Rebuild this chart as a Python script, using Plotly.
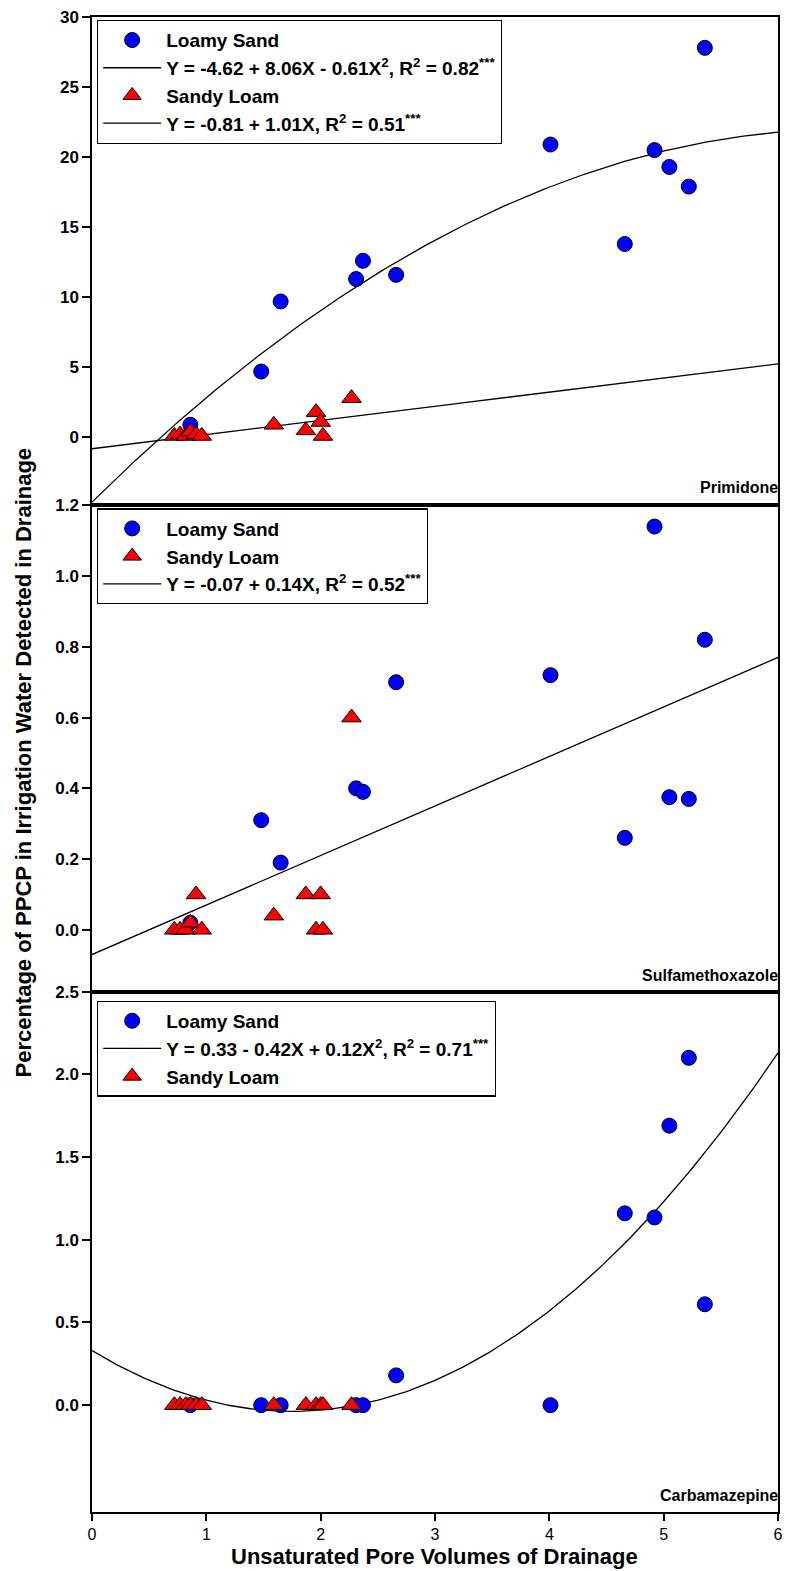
import numpy as np
import plotly.graph_objects as go

# ---------------- data ----------------
loamy_x = [0.86, 1.48, 1.65, 2.31, 2.37, 2.66, 4.01, 4.66, 4.92, 5.05, 5.22, 5.36]
loamy_prim = [0.9, 4.7, 9.7, 11.3, 12.6, 11.6, 20.9, 13.8, 20.5, 19.3, 17.9, 27.8]
loamy_sulf = [0.02, 0.31, 0.19, 0.40, 0.39, 0.70, 0.72, 0.26, 1.14, 0.375, 0.37, 0.82]
loamy_carb = [0.0, 0.0, 0.0, 0.0, 0.0, 0.18, 0.0, 1.16, 1.135, 1.69, 2.1, 0.61]

sandy_x = [0.72, 0.77, 0.82, 0.86, 0.91, 0.96, 1.59, 1.87, 1.96, 2.00, 2.02, 2.27]
sandy_prim = [0.1, 0.2, 0.1, 0.4, 0.2, 0.1, 0.9, 0.5, 1.8, 1.1, 0.1, 2.8]
sandy_sulf = [0.0, 0.0, 0.0, 0.02, 0.10, 0.0, 0.04, 0.10, 0.0, 0.10, 0.0, 0.60]
sandy_carb = [0.0] * 12

# regression coefficients (c0, c1, c2) from the legend equations
fit_prim_loamy = (-4.62, 8.06, -0.61)
fit_prim_sandy = (-0.81, 1.01, 0.0)
fit_sulf_all = (-0.07, 0.14, 0.0)
fit_carb_loamy = (0.33, -0.42, 0.12)

x_ticks = [0, 1, 2, 3, 4, 5, 6]
prim_ticks = [0, 5, 10, 15, 20, 25, 30]
sulf_ticks = [0.0, 0.2, 0.4, 0.6, 0.8, 1.0, 1.2]
carb_ticks = [0.0, 0.5, 1.0, 1.5, 2.0, 2.5]

labels = {
    "prim_fit_l": "Y = -4.62 + 8.06X - 0.61X<sup>2</sup>, R<sup>2</sup> = 0.82<sup>***</sup>",
    "prim_fit_s": "Y = -0.81 + 1.01X, R<sup>2</sup> = 0.51<sup>***</sup>",
    "sulf_fit": "Y = -0.07 + 0.14X, R<sup>2</sup> = 0.52<sup>***</sup>",
    "carb_fit": "Y = 0.33 - 0.42X + 0.12X<sup>2</sup>, R<sup>2</sup> = 0.71<sup>***</sup>",
}

# ---------------- figure ----------------
W, H = 791, 1571
ML, MR, MT, MB = 92, 8, 15, 59
PH = H - MT - MB
PW = W - ML - MR
def py(pix):
    return (H - MB - pix) / PH
def px(pix):
    return (pix - ML) / PW

FONT = "Arial, Liberation Sans, sans-serif"
xs = np.linspace(0, 6, 200)
def poly(c):
    return c[0] + c[1] * xs + c[2] * xs ** 2

fig = go.Figure()

circle = dict(symbol="circle", size=15, color="#0000FF", line=dict(color="black", width=1))
tri = dict(symbol="triangle-up", size=17, color="#FF0000", line=dict(color="black", width=1))
line = dict(color="black", width=1.3)

# panel 1 (top) -> x3/y3 ; legend
fig.add_trace(go.Scatter(x=xs, y=poly(fit_prim_loamy), mode="lines", line=line, name=labels["prim_fit_l"],
                         xaxis="x3", yaxis="y3", legend="legend", legendrank=2))
fig.add_trace(go.Scatter(x=xs, y=poly(fit_prim_sandy), mode="lines", line=line, name=labels["prim_fit_s"],
                         xaxis="x3", yaxis="y3", legend="legend", legendrank=4))
fig.add_trace(go.Scatter(x=loamy_x, y=loamy_prim, mode="markers", marker=circle, name="Loamy Sand",
                         xaxis="x3", yaxis="y3", legend="legend", legendrank=1))
fig.add_trace(go.Scatter(x=sandy_x, y=sandy_prim, mode="markers", marker=tri, name="Sandy Loam",
                         xaxis="x3", yaxis="y3", legend="legend", legendrank=3))

# panel 2 (middle) -> x2/y2 ; legend2
fig.add_trace(go.Scatter(x=xs, y=poly(fit_sulf_all), mode="lines", line=line, name=labels["sulf_fit"],
                         xaxis="x2", yaxis="y2", legend="legend2", legendrank=3))
fig.add_trace(go.Scatter(x=loamy_x, y=loamy_sulf, mode="markers", marker=circle, name="Loamy Sand",
                         xaxis="x2", yaxis="y2", legend="legend2", legendrank=1))
fig.add_trace(go.Scatter(x=sandy_x, y=sandy_sulf, mode="markers", marker=tri, name="Sandy Loam",
                         xaxis="x2", yaxis="y2", legend="legend2", legendrank=2))

# panel 3 (bottom) -> x/y ; legend3
fig.add_trace(go.Scatter(x=xs, y=poly(fit_carb_loamy), mode="lines", line=line, name=labels["carb_fit"],
                         xaxis="x", yaxis="y", legend="legend3", legendrank=2))
fig.add_trace(go.Scatter(x=loamy_x, y=loamy_carb, mode="markers", marker=circle, name="Loamy Sand",
                         xaxis="x", yaxis="y", legend="legend3", legendrank=1))
fig.add_trace(go.Scatter(x=sandy_x, y=sandy_carb, mode="markers", marker=tri, name="Sandy Loam",
                         xaxis="x", yaxis="y", legend="legend3", legendrank=3))

top1, bot1 = 15, 504
top2, bot2 = 504, 991
top3, bot3 = 991, 1512

ax_common = dict(showline=True, linecolor="black", linewidth=1.5, mirror=True, showgrid=False,
                 zeroline=False, range=[0, 6])
y_common = dict(showline=True, linecolor="black", linewidth=1.5, mirror=True, showgrid=False,
                zeroline=False, ticks="outside", ticklen=8, tickwidth=1.5, tickcolor="black",
                tickfont=dict(family=FONT, size=17, color="black", weight="bold"))

legend_common = dict(bgcolor="white", bordercolor="black", borderwidth=1.2,
                     font=dict(family=FONT, size=19, color="black", weight="bold"),
                     xanchor="left", yanchor="top", x=px(97), itemwidth=58,
                     tracegroupgap=0)

fig.update_layout(
    width=W, height=H,
    margin=dict(l=ML, r=MR, t=MT, b=MB),
    paper_bgcolor="white", plot_bgcolor="white",
    showlegend=True,
    xaxis=dict(**ax_common, anchor="y", domain=[0, 1], ticks="outside", ticklen=7, tickwidth=1.5,
               tickcolor="black", tickvals=x_ticks,
               tickfont=dict(family=FONT, size=16, color="black")),
    xaxis2=dict(**ax_common, anchor="y2", matches="x", showticklabels=False, ticks=""),
    xaxis3=dict(**ax_common, anchor="y3", matches="x", showticklabels=False, ticks=""),
    yaxis=dict(**y_common, domain=[py(bot3), py(top3)], anchor="x", range=[-0.646, 2.5],
               tickvals=carb_ticks, tickformat=".1f"),
    yaxis2=dict(**y_common, domain=[py(bot2), py(top2)], anchor="x2", range=[-0.175, 1.2],
                tickvals=sulf_ticks, tickformat=".1f"),
    yaxis3=dict(**y_common, domain=[py(bot1), py(top1)], anchor="x3", range=[-4.85, 30],
                tickvals=prim_ticks),
    legend=dict(**legend_common, y=py(18)),
    legend2=dict(**legend_common, y=py(507)),
    legend3=dict(**legend_common, y=py(1000)),
)

ann_font = dict(family=FONT, size=16, color="black", weight="bold")
xr = px(785)
fig.add_annotation(text="Primidone", xref="paper", yref="paper", x=xr, y=py(486),
                   xanchor="right", yanchor="middle", showarrow=False, font=ann_font)
fig.add_annotation(text="Sulfamethoxazole", xref="paper", yref="paper", x=xr, y=py(975),
                   xanchor="right", yanchor="middle", showarrow=False, font=ann_font)
fig.add_annotation(text="Carbamazepine", xref="paper", yref="paper", x=xr, y=py(1495),
                   xanchor="right", yanchor="middle", showarrow=False, font=ann_font)

title_font = dict(family=FONT, size=22, color="black", weight="bold")
fig.add_annotation(text="Percentage of PPCP in Irrigation Water Detected in Drainage",
                   xref="paper", yref="paper", x=px(22), y=py(762),
                   xanchor="center", yanchor="middle", textangle=-90, showarrow=False, font=title_font)
fig.add_annotation(text="Unsaturated Pore Volumes of Drainage",
                   xref="paper", yref="paper", x=px(437), y=py(1557),
                   xanchor="center", yanchor="middle", showarrow=False, font=title_font)

fig.write_html("out.html")
